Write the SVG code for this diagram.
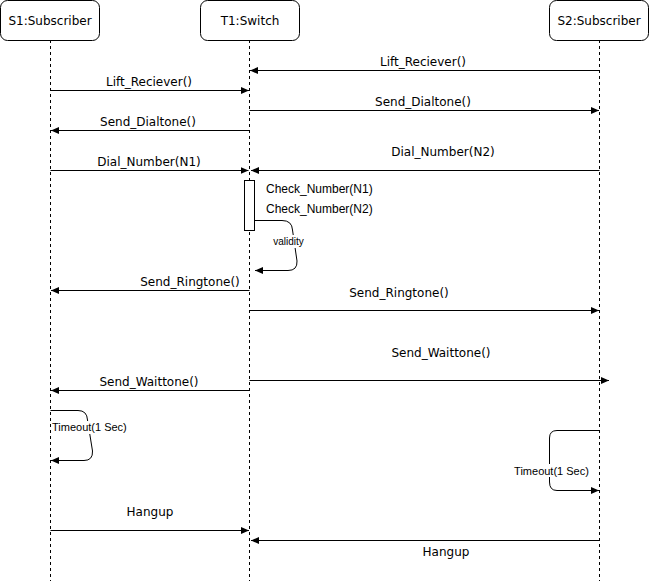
<svg xmlns="http://www.w3.org/2000/svg" width="650" height="581" viewBox="0 0 650 581">
<style>
.node rect{fill:#fff;stroke:#000;stroke-width:1}
.nt{font-family:"DejaVu Sans",Verdana,sans-serif;font-size:12px;fill:#000;text-anchor:middle}
.life{stroke:#000;stroke-width:1;stroke-dasharray:3 3;fill:none}
.msg{stroke:#000;stroke-width:1;fill:none;marker-end:url(#a)}
.ml{font-family:"DejaVu Sans",Verdana,sans-serif;font-size:12px;fill:#000;text-anchor:middle}
.hl{font-family:"Liberation Sans",Arial,sans-serif;fill:#000}
.bg{fill:#fff;stroke:none}
</style>
<defs>
<marker id="a" markerWidth="10" markerHeight="10" refX="8" refY="4" orient="auto" markerUnits="userSpaceOnUse">
<path d="M0,0.5 L8,4 L0,7.5 z" fill="#000"/>
</marker>
</defs>
<g id="lifelines">
<line class="life" x1="50.5" y1="40" x2="50.5" y2="581"/>
<line class="life" x1="249.5" y1="40" x2="249.5" y2="581"/>
<line class="life" x1="599.5" y1="40" x2="599.5" y2="581"/>
</g>
<g id="S1" class="node"><rect x="0.5" y="0.5" width="99" height="40" rx="7"/><text class="nt" x="50" y="25">S1:Subscriber</text></g>
<g id="T1" class="node"><rect x="200.5" y="0.5" width="99" height="40" rx="7"/><text class="nt" x="250" y="25">T1:Switch</text></g>
<g id="S2" class="node"><rect x="549.5" y="0.5" width="99" height="40" rx="7"/><text class="nt" x="599" y="25">S2:Subscriber</text></g>
<g id="activation"><rect x="244.5" y="180.5" width="10" height="50" fill="#fff" stroke="#000"/></g>
<g id="connectors">
<path class="msg" d="M599.5,70.5 H250"/>
<path class="msg" d="M50.5,90.5 H249"/>
<path class="msg" d="M249.5,110.5 H599"/>
<path class="msg" d="M249.5,130.5 H51"/>
<path class="msg" d="M50.5,170.5 H248.5"/>
<path class="msg" d="M599.5,170.5 H251"/>
<path class="msg" d="M254.5,220.5 H282 Q292,220.5 292.5,230 L297,261 Q297.5,270.5 288,270.5 H255"/>
<path class="msg" d="M249.5,290.5 H51"/>
<path class="msg" d="M249.5,310.5 H599"/>
<path class="msg" d="M249.5,380.5 H609"/>
<path class="msg" d="M249.5,390.5 H51"/>
<path class="msg" d="M50.5,410.5 H78 Q87,410.5 87.5,420 L92.5,451 Q93,460.5 84,460.5 H51"/>
<path class="msg" d="M599.5,430.5 H557 Q549.5,430.5 549.5,438 V482 Q549.5,490.5 557,490.5 H599"/>
<path class="msg" d="M50.5,530.5 H249"/>
<path class="msg" d="M599.5,540.5 H251"/>
</g>
<g id="labels">
<text class="ml" x="423" y="66">Lift_Reciever()</text>
<text class="ml" x="149" y="86">Lift_Reciever()</text>
<text class="ml" x="423" y="106">Send_Dialtone()</text>
<text class="ml" x="148" y="126">Send_Dialtone()</text>
<text class="ml" x="149" y="166">Dial_Number(N1)</text>
<text class="ml" x="443" y="156">Dial_Number(N2)</text>
<text class="hl" x="266" y="193" font-size="12">Check_Number(N1)</text>
<text class="hl" x="266" y="213" font-size="12">Check_Number(N2)</text>
<rect class="bg" x="274" y="235" width="29" height="13"/>
<text class="hl" x="288.5" y="245" font-size="10" text-anchor="middle">validity</text>
<text class="ml" x="190" y="286">Send_Ringtone()</text>
<text class="ml" x="399" y="297">Send_Ringtone()</text>
<text class="ml" x="441" y="357">Send_Waittone()</text>
<text class="ml" x="149" y="386">Send_Waittone()</text>
<rect class="bg" x="52" y="421" width="73" height="13"/>
<text class="hl" x="52" y="431" font-size="11">Timeout(1 Sec)</text>
<rect class="bg" x="515" y="464" width="73" height="13"/>
<text class="hl" x="551.5" y="474.5" font-size="11" text-anchor="middle">Timeout(1 Sec)</text>
<text class="ml" x="150" y="516">Hangup</text>
<text class="ml" x="446" y="556">Hangup</text>
</g>
</svg>
